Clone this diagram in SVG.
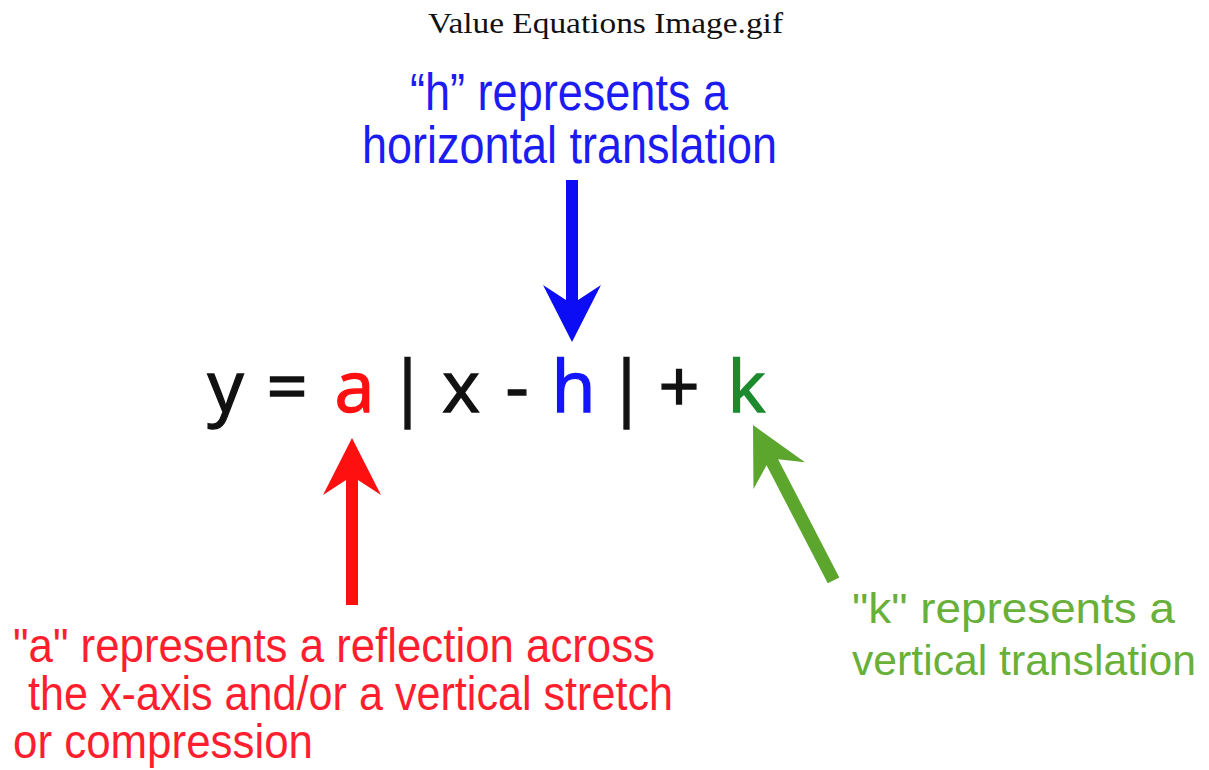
<svg xmlns="http://www.w3.org/2000/svg" width="1209" height="770" viewBox="0 0 1209 770">
  <style>
    .title { font-family: "Liberation Serif", "DejaVu Serif", serif; font-size: 30px; fill: #111; }
    .lbl { font-family: "Liberation Sans", Arial, sans-serif; }
    .blue { fill: #1c1cf2; font-size: 51px; }
    .red { fill: #ff1e2d; font-size: 48px; }
    .green { fill: #68b03a; font-size: 43px; }
    .eq { font-family: "Open Sans", "DejaVu Sans", sans-serif; font-size: 72px; text-anchor: middle; fill: #111; stroke: #111; stroke-width: 1.4px; }
    .eq .a { fill: #ff1010; stroke: #ff1010; }
    .eq .h { fill: #1414ff; stroke: #1414ff; }
    .eq .k { fill: #1d8a2e; stroke: #1d8a2e; }
  </style>
  <rect width="1209" height="770" fill="#ffffff"/>

  <g id="title">
    <text class="title" x="428" y="33" textLength="355" lengthAdjust="spacingAndGlyphs">Value Equations Image.gif</text>
  </g>

  <g id="node-h">
    <text class="lbl blue" x="410" y="110" textLength="318" lengthAdjust="spacingAndGlyphs">“h” represents a</text>
    <text class="lbl blue" x="362" y="163" textLength="415" lengthAdjust="spacingAndGlyphs">horizontal translation</text>
  </g>

  <g id="equation" class="eq">
    <text x="225.5" y="412">y</text>
    <text x="287" y="412">=</text>
    <text x="354.5" y="412" class="a">a</text>
    <text x="407.5" y="412">|</text>
    <text x="461" y="412">x</text>
    <text x="517" y="412">-</text>
    <text x="573.5" y="412" class="h">h</text>
    <text x="626.5" y="412">|</text>
    <text x="679" y="412">+</text>
    <text x="746.5" y="412" class="k">k</text>
  </g>

  <g id="node-a">
    <text class="lbl red" x="13" y="662" textLength="642" lengthAdjust="spacingAndGlyphs">"a" represents a reflection across</text>
    <text class="lbl red" x="28" y="710" textLength="645" lengthAdjust="spacingAndGlyphs">the x-axis and/or a vertical stretch</text>
    <text class="lbl red" x="13" y="758" textLength="300" lengthAdjust="spacingAndGlyphs">or compression</text>
  </g>

  <g id="node-k">
    <text class="lbl green" x="852" y="623" textLength="323" lengthAdjust="spacingAndGlyphs">"k" represents a</text>
    <text class="lbl green" x="852" y="675" textLength="344" lengthAdjust="spacingAndGlyphs">vertical translation</text>
  </g>

  <g id="connectors">
    <path id="arrow-h" fill="#0c0cf5" transform="translate(572,342) rotate(180)" d="M0,0 L29,57 L6,42 L6,162 L-6,162 L-6,42 L-29,57 Z"/>
    <path id="arrow-a" fill="#ff1010" transform="translate(352,438)" d="M0,0 L29,57 L6,42 L6,167 L-6,167 L-6,42 L-29,57 Z"/>
    <path id="arrow-k" fill="#5ca62e" transform="translate(753,425) rotate(-27.4)" d="M0,0 L29,57 L6.5,42 L6.5,175 L-6.5,175 L-6.5,42 L-29,57 Z"/>
  </g>
</svg>
